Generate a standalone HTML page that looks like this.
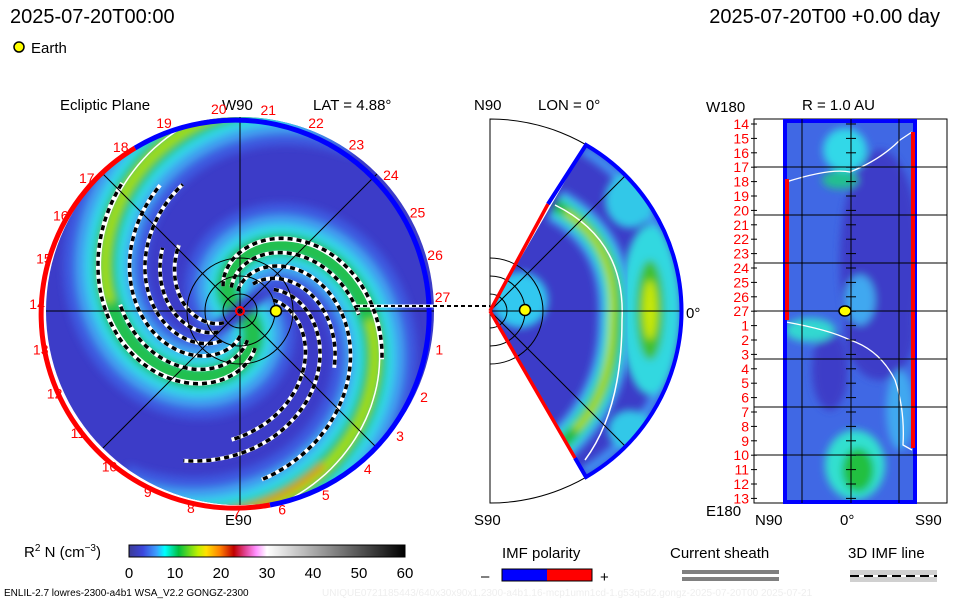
<!DOCTYPE html>
<html><head><meta charset="utf-8">
<style>
body{margin:0;background:#fff;}
#root{position:relative;width:960px;height:600px;overflow:hidden;background:#fff;font-family:"Liberation Sans","DejaVu Sans",sans-serif;}
svg text{font-family:"Liberation Sans","DejaVu Sans",sans-serif;}
</style></head>
<body>
<div id="root">
<svg id="s" width="960" height="600" viewBox="0 0 960 600">
<defs>
<linearGradient id="cbar" x1="0" x2="1" y1="0" y2="0">
<stop offset="0" stop-color="#3c3c96"/>
<stop offset="0.05" stop-color="#3c46dc"/>
<stop offset="0.1" stop-color="#3ca0ff"/>
<stop offset="0.13" stop-color="#00ffff"/>
<stop offset="0.18" stop-color="#00c040"/>
<stop offset="0.25" stop-color="#c0f000"/>
<stop offset="0.28" stop-color="#ffe000"/>
<stop offset="0.33" stop-color="#ff8000"/>
<stop offset="0.38" stop-color="#c00000"/>
<stop offset="0.42" stop-color="#e04090"/>
<stop offset="0.46" stop-color="#ff90ff"/>
<stop offset="0.5" stop-color="#ffffff"/>
<stop offset="1" stop-color="#000000"/>
</linearGradient>
<clipPath id="circClip"><circle cx="240" cy="311" r="194"/></clipPath>
<clipPath id="wedgeClip"><path d="M490,311 L586,145 A192,192 0 0 1 586,477 Z"/></clipPath>
<clipPath id="rectClip"><rect x="785" y="121" width="130" height="381"/></clipPath>
<filter id="bl" x="-20%" y="-20%" width="140%" height="140%"><feGaussianBlur stdDeviation="4"/></filter>
<filter id="bl2" x="-20%" y="-20%" width="140%" height="140%"><feGaussianBlur stdDeviation="4"/></filter>
</defs>

<text x="10" y="23" font-size="20" fill="#000">2025-07-20T00:00</text>
<text x="940" y="23" font-size="20" fill="#000" text-anchor="end">2025-07-20T00 +0.00 day</text>
<circle cx="19" cy="47" r="5" fill="#ffff00" stroke="#000" stroke-width="1.5"/>
<text x="31" y="53" font-size="15">Earth</text>

<text x="60" y="110" font-size="15">Ecliptic Plane</text>
<text x="222" y="110" font-size="15">W90</text>
<text x="313" y="110" font-size="15">LAT = 4.88°</text>
<text x="474" y="110" font-size="15">N90</text>
<text x="538" y="110" font-size="15">LON = 0°</text>
<text x="706" y="112" font-size="15">W180</text>
<text x="802" y="110" font-size="15">R = 1.0 AU</text>
<text x="225" y="525" font-size="15">E90</text>
<text x="474" y="525" font-size="15">S90</text>
<text x="706" y="516" font-size="15">E180</text>
<text x="755" y="525" font-size="15">N90</text>
<text x="840" y="525" font-size="15">0°</text>
<text x="915" y="525" font-size="15">S90</text>
<text x="686" y="318" font-size="15">0°</text>

<g id="ecl">
<circle cx="240" cy="311" r="194" fill="#3c3cc8"/>
<g id="arms" clip-path="url(#circClip)"></g>
<g id="fieldlines" clip-path="url(#circClip)"></g>
<g id="eclgrid" stroke="#000" stroke-width="1" fill="none">
<line x1="46" y1="311" x2="434" y2="311"/>
<line x1="240" y1="117" x2="240" y2="505"/>
<line x1="103" y1="174" x2="377" y2="448"/>
<line x1="103" y1="448" x2="377" y2="174"/>
<circle cx="240" cy="311" r="17"/><circle cx="240" cy="311" r="35"/><circle cx="240" cy="311" r="53"/>
</g>
<path d="M270,505 A194,194 0 0 1 135,148" stroke="#ff0000" stroke-width="5" fill="none"/>
<path d="M135,148 A194,194 0 1 1 270,505" stroke="#0000ff" stroke-width="5" fill="none"/>
<line x1="356" y1="306" x2="440" y2="306" stroke="#fff" stroke-width="3"/>
<line x1="356" y1="306" x2="490" y2="306" stroke="#000" stroke-width="2" stroke-dasharray="4 3"/>
<circle cx="240" cy="311" r="4" fill="none" stroke="#f00" stroke-width="2"/>
<circle cx="276" cy="311" r="5.5" fill="#ffff00" stroke="#000" stroke-width="1.5"/>
<g id="carr" font-size="14" fill="#ff0000"></g>
</g>

<g>
<path d="M490,119 A192,192 0 0 1 490,503 Z" fill="none" stroke="#000" stroke-width="1"/>
<g clip-path="url(#wedgeClip)">
<rect x="480" y="130" width="220" height="360" fill="#3c3cc8"/>
<g filter="url(#bl)">
<path d="M586,145 A192,192 0 0 1 586,477 L580,468 A181,181 0 0 0 580,154 Z" fill="#4090f0"/>
<ellipse cx="650" cy="310" rx="30" ry="85" fill="#30d8e0"/>
<ellipse cx="650" cy="310" rx="14" ry="50" fill="#40c030"/>
<ellipse cx="650" cy="310" rx="7" ry="30" fill="#c8e800"/>
<ellipse cx="630" cy="200" rx="25" ry="28" fill="#30c8e8"/>
<ellipse cx="630" cy="430" rx="22" ry="20" fill="#30c8e8"/>
<ellipse cx="520" cy="300" rx="28" ry="28" fill="#30c8f0"/>
</g>
<g fill="none" filter="url(#bl2)">
<path d="M555,205 Q620,240 615,320 Q615,400 555,450" stroke="#40a0f0" stroke-width="34"/>
<path d="M555,205 Q620,240 615,320 Q615,400 555,450" stroke="#30e0d0" stroke-width="22"/>
<path d="M555,205 Q620,240 615,320 Q615,400 555,450" stroke="#20b830" stroke-width="12"/>
<path d="M565,212 Q618,245 612,320 Q612,395 575,430" stroke="#c8e800" stroke-width="5"/>
</g>
<path d="M555,205 Q626,240 622,320 Q622,410 585,460" stroke="#fff" stroke-width="1.5" fill="none"/>
</g>
<g stroke="#000" stroke-width="1" fill="none">
<line x1="490" y1="311" x2="682" y2="311"/>
<line x1="490" y1="311" x2="625" y2="176"/>
<line x1="490" y1="311" x2="625" y2="446"/>
<path d="M490,294 A17,17 0 0 1 490,328"/><path d="M490,276 A35,35 0 0 1 490,346"/><path d="M490,258 A53,53 0 0 1 490,364"/>
</g>
<path d="M490,311 L548,204" stroke="#f00" stroke-width="3.5"/>
<path d="M548,204 L586,145 A192,192 0 0 1 586,477 L575,458" stroke="#00f" stroke-width="4" fill="none"/>
<path d="M490,311 L575,458" stroke="#f00" stroke-width="3.5"/>
<circle cx="525" cy="310" r="5.5" fill="#ffff00" stroke="#000" stroke-width="1.5"/>
</g>

<g>
<rect x="754" y="119" width="193" height="384" fill="none" stroke="#000" stroke-width="1"/>
<g clip-path="url(#rectClip)">
<rect x="785" y="121" width="130" height="381" fill="#4068e4"/>
<g filter="url(#bl)">
<ellipse cx="880" cy="260" rx="40" ry="110" fill="#3c3cc8"/>
<ellipse cx="830" cy="370" rx="18" ry="40" fill="#3c3cc8"/>
<ellipse cx="880" cy="330" rx="35" ry="50" fill="#3c3cc8"/>
<ellipse cx="845" cy="150" rx="22" ry="22" fill="#30d8e8"/>
<ellipse cx="840" cy="180" rx="18" ry="9" fill="#20c090"/>
<ellipse cx="810" cy="330" rx="25" ry="12" fill="#30d8d0"/>
<ellipse cx="855" cy="465" rx="30" ry="35" fill="#30e0d0"/>
<ellipse cx="858" cy="470" rx="16" ry="22" fill="#20c040"/>
<ellipse cx="860" cy="300" rx="15" ry="25" fill="#40a8f0"/>
<ellipse cx="900" cy="410" rx="14" ry="40" fill="#40a8f0"/>
</g>
</g>
<path d="M786,182 Q830,168 850,172 Q880,160 900,140 L912,132" stroke="#fff" stroke-width="1.3" fill="none"/>
<path d="M786,322 Q830,330 850,340 Q880,350 895,380 Q905,410 903,445 L912,450" stroke="#fff" stroke-width="1.3" fill="none"/>
<rect x="785" y="121" width="130" height="381" fill="none" stroke="#00f" stroke-width="4"/>
<line x1="787" y1="179" x2="787" y2="320" stroke="#f00" stroke-width="4"/>
<line x1="913" y1="132" x2="913" y2="448" stroke="#f00" stroke-width="4"/>
<g id="rgrid" stroke="#000" stroke-width="1"></g>
<g id="rlabels" font-size="14" fill="#ff0000" text-anchor="end"></g>
<ellipse cx="845" cy="311" rx="6" ry="5" fill="#ffff00" stroke="#000" stroke-width="1.5"/>
</g>

<text x="24" y="557" font-size="15">R<tspan font-size="10" dy="-6">2</tspan><tspan dy="6"> N (cm</tspan><tspan font-size="10" dy="-6">−3</tspan><tspan dy="6">)</tspan></text>
<rect x="129" y="545" width="276" height="12" fill="url(#cbar)" stroke="#000" stroke-width="1"/>
<g id="cbticks" font-size="15" text-anchor="middle"></g>
<text x="4" y="596" font-size="10">ENLIL-2.7 lowres-2300-a4b1 WSA_V2.2 GONGZ-2300</text>
<text x="322" y="596" font-size="10" fill="#eeeeee">UNIQUE0721185443/640x30x90x1.2300-a4b1.16-mcp1umn1cd-1.g53q5d2.gongz-2025-07-20T00    2025-07-21</text>

<text x="502" y="558" font-size="15">IMF polarity</text>
<text x="481" y="581" font-size="15">–</text>
<rect x="502" y="569" width="45" height="12" fill="#0000ff"/>
<rect x="547" y="569" width="45" height="12" fill="#ff0000"/>
<rect x="502" y="569" width="90" height="12" fill="none" stroke="#000" stroke-width="1"/>
<text x="600" y="582" font-size="15">+</text>
<text x="670" y="558" font-size="15">Current sheath</text>
<rect x="682" y="570" width="97" height="4" fill="#808080"/>
<rect x="682" y="577" width="97" height="4" fill="#808080"/>
<text x="848" y="558" font-size="15">3D IMF line</text>
<rect x="850" y="570" width="87" height="12" fill="#d0d0d0"/>
<line x1="850" y1="576" x2="937" y2="576" stroke="#fff" stroke-width="2"/>
<line x1="850" y1="576" x2="937" y2="576" stroke="#000" stroke-width="2" stroke-dasharray="9 5"/>
</svg>
</div>
<script>
const carrLabels = ["20","21","22","23","24","25","26","27","1","2","3","4","5","6","7","8","9","10","11","12","13","14","15","16","17","18","19"];
const carrAngles = [-96,-82,-68,-55,-42,-29,-16,-4,11,25,38,51,65,78,91,104,117,130,143,156,169,182,195,208,221,234,248];
const sphereLabels = ["14","15","16","17","18","19","20","21","22","23","24","25","26","27","1","2","3","4","5","6","7","8","9","10","11","12","13"];
const cbTicks = [0,10,20,30,40,50,60];
const armPhases = [-151, 29];
const fieldPhases = [-160,-140,-120,-100,-80,-60,20,40,60,80,100,120];
const fieldRanges = [[30,150],[25,120],[20,170],[30,110],[40,160],[35,130],[40,175],[30,120],[25,150],[35,140],[30,100],[20,90]];

const NS = "http://www.w3.org/2000/svg";
const cx = 240, cy = 311, K = 0.0208;
function spiralPath(th0deg, r1, r2){
  let d = "";
  for (let r = r1; r <= r2; r += 2){
    const t = th0deg*Math.PI/180 + K*r;
    const x = cx + r*Math.cos(t), y = cy + r*Math.sin(t);
    d += (r === r1 ? "M" : "L") + x.toFixed(1) + "," + y.toFixed(1);
  }
  return d;
}
function mk(tag, attrs, parent){
  const e = document.createElementNS(NS, tag);
  for (const k in attrs) e.setAttribute(k, attrs[k]);
  parent.appendChild(e);
  return e;
}
const arms = document.getElementById("arms");
const layers = [[84,"#3c5ae0"],[60,"#40a0f0"],[40,"#30d8e8"],[22,"#20c050"]];
armPhases.forEach((ph, i) => {
  const g = mk("g", {filter:"url(#bl2)", fill:"none"}, arms);
  
  
  layers.forEach(l => mk("path", {d: spiralPath(ph, 8, 230), stroke: l[1], "stroke-width": l[0]}, g));
  mk("path", {d: spiralPath(ph, 130, 230), stroke: "#a8e000", "stroke-width": 9}, g);
  if (i === 0) mk("path", {d: spiralPath(ph+4, 175, 230), stroke: "#f08000", "stroke-width": 5}, g);
  const w = mk("path", {d: spiralPath(ph-6, 40, 230), stroke:"#fff", "stroke-width":1.5, fill:"none"}, arms);
  
  
});
const fl = document.getElementById("fieldlines");
fieldPhases.forEach((ph, i) => {
  const rr = fieldRanges[i];
  const d = spiralPath(ph, rr[0], rr[1]);
  mk("path", {d: d, stroke:"#fff", "stroke-width":4, fill:"none"}, fl);
  const p = mk("path", {d: d, stroke:"#000", "stroke-width":3.5, fill:"none", "stroke-dasharray":"5 4"}, fl);
  
  
});
const carr = document.getElementById("carr");
carrLabels.forEach((lab, i) => {
  const a = carrAngles[i]*Math.PI/180, R = 203;
  const t = mk("text", {x: (cx + R*Math.cos(a)).toFixed(1), y: (cy + R*Math.sin(a) + 5).toFixed(1), "text-anchor":"middle"}, carr);
  t.textContent = lab;
  
  
});
const rl = document.getElementById("rlabels"), rg = document.getElementById("rgrid");
sphereLabels.forEach((lab, i) => {
  const y = 124 + i*14.4;
  const t = mk("text", {x: 749, y: (y+5).toFixed(1)}, rl);
  t.textContent = lab;
  
  
  mk("line", {x1:751, x2:757, y1:y, y2:y}, rg);
  mk("line", {x1:846, x2:856, y1:y, y2:y}, rg);
});
[167,215,263,311,359,407,455].forEach(y => mk("line", {x1:754, x2:947, y1:y, y2:y}, rg));
[802,851,899].forEach(x => mk("line", {x1:x, x2:x, y1:119, y2:503}, rg));
const cb = document.getElementById("cbticks");
cbTicks.forEach(v => {
  const x = 129 + v/60*276;
  const t = mk("text", {x: x, y: 578}, cb);
  t.textContent = v;
  
  
});
</script>
</body></html>
